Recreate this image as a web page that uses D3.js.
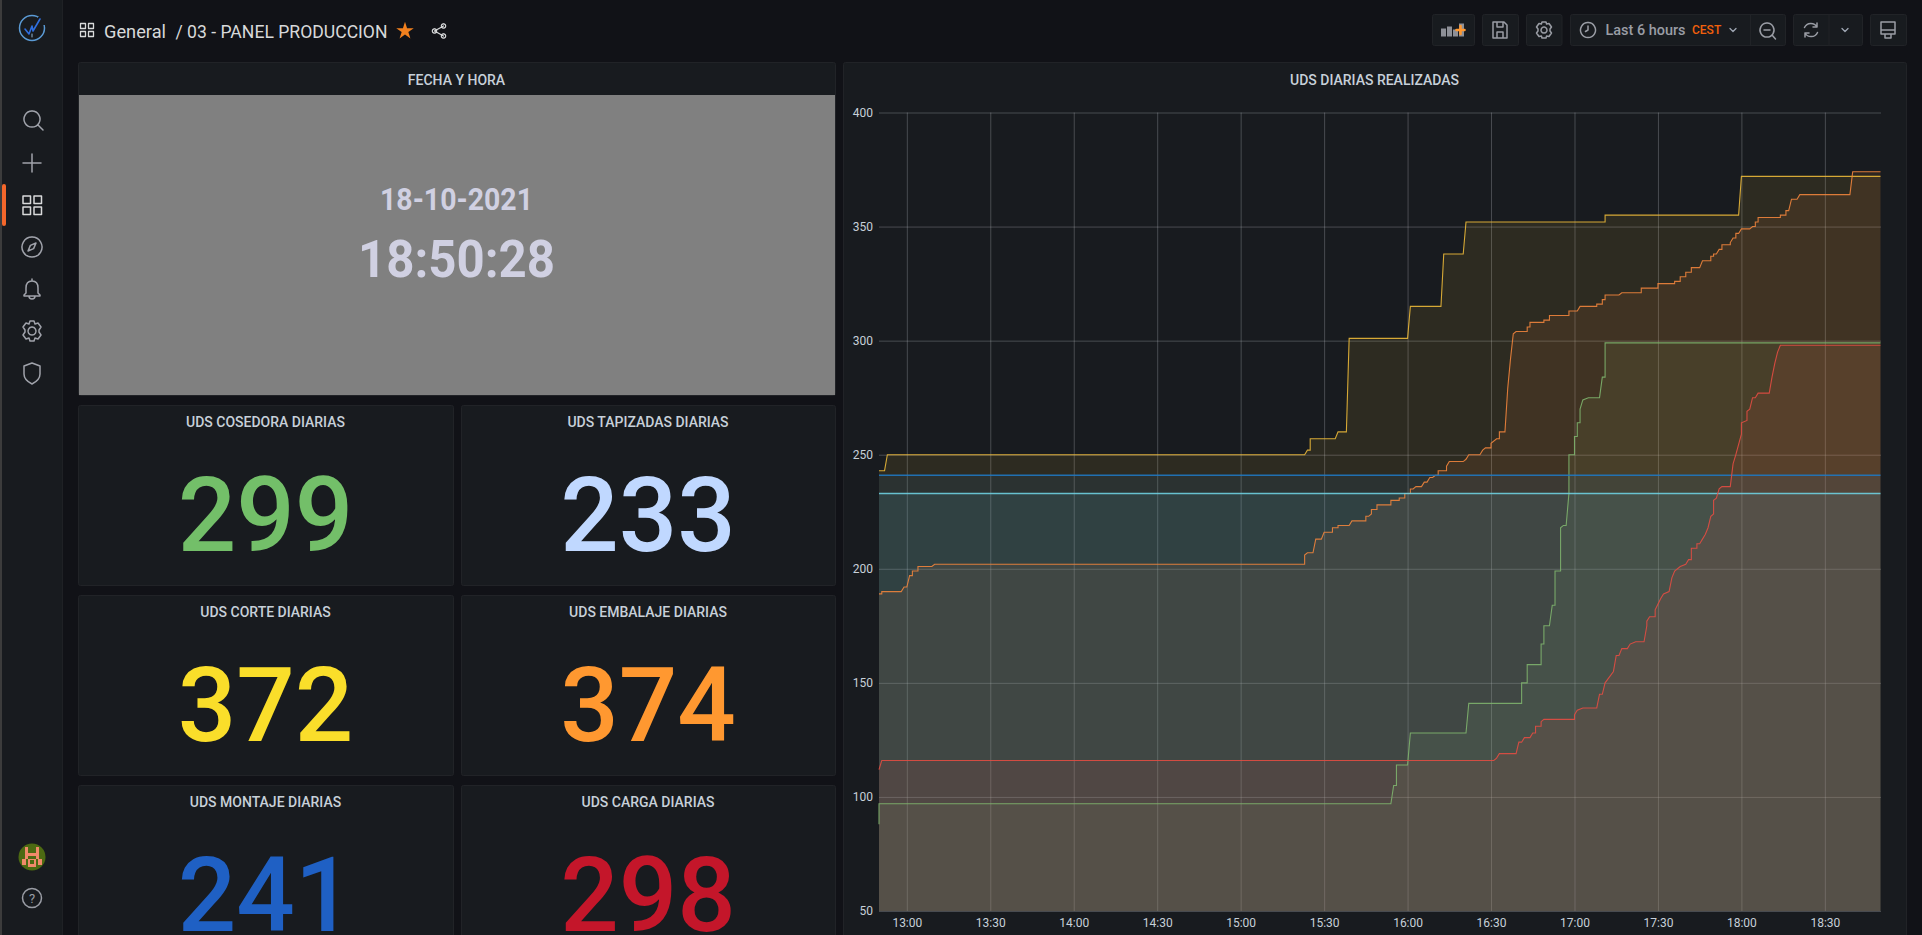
<!DOCTYPE html>
<html>
<head>
<meta charset="utf-8">
<script src="https://cdn.jsdelivr.net/npm/d3@7"></script>
<style>
    html, body { margin: 0; padding: 0; background: #111217; overflow: hidden; }
    svg { display: block; }
    text { font-family: Roboto, sans-serif; }
</style>
</head>
<body>
<svg id="dash" width="1922" height="935"></svg>
<script>
    'use strict';

    // stat panels
    const statTitles = ['UDS COSEDORA DIARIAS', 'UDS TAPIZADAS DIARIAS', 'UDS CORTE DIARIAS', 'UDS EMBALAJE DIARIAS', 'UDS MONTAJE DIARIAS', 'UDS CARGA DIARIAS'];
    const statValues = [299, 233, 372, 374, 241, 298];
    const statColors = ['#73bf69', '#c0d8ff', '#fade2a', '#ff9830', '#1f60c4', '#c4162a'];

    // axis ticks
    const yTicks = [50, 100, 150, 200, 250, 300, 350, 400];
    const xTicks = ['13:00', '13:30', '14:00', '14:30', '15:00', '15:30', '16:00', '16:30', '17:00', '17:30', '18:00', '18:30'];
    const timeRange = ['12:50.47', '18:50.47'];

    // series: [time, units]
    const montaje = [['12:50.47', 241], ['18:50.47', 241]];
    const tapizadas = [['12:50.47', 233], ['18:50.47', 233]];
    const corte = [
        ['12:50.47', 243], ['12:52.6', 243], ['12:53', 250], ['15:23.6', 250], ['15:24', 252], ['15:25', 252],
        ['15:25.4', 257], ['15:34.7', 257], ['15:35', 260], ['15:38.6', 260], ['15:39.4', 301], ['16:00.3', 301],
        ['16:01.2', 315], ['16:12.2', 315], ['16:13', 338], ['16:20.8', 338], ['16:21.5', 352], ['17:11.4', 352],
        ['17:11.7', 355], ['17:59.6', 355], ['18:00.3', 372], ['18:50.47', 372]
    ];
    const embalaje = [
        ['12:50.47', 189], ['12:51.4', 189], ['12:51.8', 190], ['12:58.6', 190], ['12:59', 192], ['13:00.5', 192],
        ['13:01.4', 197], ['13:02.2', 197], ['13:02.5', 199], ['13:04.4', 199], ['13:04.7', 201], ['13:09.8', 201],
        ['13:10.3', 202], ['15:23', 202], ['15:23.7', 206], ['15:24.5', 207], ['15:26.9', 207], ['15:27.6', 213],
        ['15:29.8', 213], ['15:30.7', 216], ['15:33.4', 216], ['15:33.9', 218], ['15:35', 218], ['15:35.3', 219],
        ['15:39.9', 219], ['15:40.2', 221], ['15:45', 221], ['15:45.3', 223], ['15:46.8', 223], ['15:47.1', 224],
        ['15:47.7', 224], ['15:47.9', 226], ['15:49.4', 226], ['15:49.6', 228], ['15:54.1', 228], ['15:54.3', 230],
        ['15:57.5', 230], ['15:57.9', 231], ['15:59.3', 231], ['15:59.6', 233], ['16:01', 233], ['16:01.4', 235],
        ['16:02.8', 235], ['16:03', 236], ['16:05.9', 236], ['16:06.5', 238], ['16:07.6', 238], ['16:08', 240],
        ['16:09.9', 240], ['16:10.1', 241], ['16:11', 241], ['16:11.2', 243], ['16:14', 243], ['16:14.6', 245],
        ['16:15.5', 247], ['16:20.9', 247], ['16:21.2', 248], ['16:22.3', 250], ['16:26.4', 250], ['16:27.2', 252],
        ['16:28', 253], ['16:30.3', 253], ['16:30.9', 255], ['16:32.1', 257], ['16:33', 257], ['16:33.3', 260],
        ['16:35.9', 260], ['16:36.6', 279], ['16:37.5', 292], ['16:38.3', 303], ['16:39.9', 304], ['16:43.1', 304],
        ['16:43.4', 306], ['16:44.2', 306], ['16:44.7', 308], ['16:49.5', 308], ['16:49.9', 309], ['16:51.5', 309],
        ['16:51.9', 311], ['16:58.1', 311], ['16:58.4', 313], ['17:01.8', 313], ['17:02.4', 315], ['17:08.3', 315],
        ['17:08.6', 316], ['17:10', 316], ['17:10.4', 318], ['17:11', 318], ['17:11.4', 320], ['17:16.6', 320],
        ['17:17', 321], ['17:24.1', 321], ['17:24.6', 323], ['17:30.2', 323], ['17:30.7', 325], ['17:36.4', 325],
        ['17:36.7', 326], ['17:38', 326], ['17:38.3', 328], ['17:40.6', 328], ['17:40.9', 330], ['17:42.3', 330],
        ['17:42.5', 332], ['17:45.9', 332], ['17:46.3', 335], ['17:49.2', 335], ['17:49.5', 337], ['17:50.5', 337],
        ['17:50.8', 338], ['17:51.9', 338], ['17:52.1', 340], ['17:53.5', 340], ['17:53.7', 342], ['17:56', 342],
        ['17:56.4', 343], ['17:56.8', 343], ['17:57', 345], ['17:58.3', 345], ['17:58.7', 347], ['17:59.9', 347],
        ['18:00.2', 349], ['18:03.6', 349], ['18:04', 350], ['18:05.2', 350], ['18:05.6', 352], ['18:06.5', 352],
        ['18:06.9', 354], ['18:14.4', 354], ['18:14.8', 355], ['18:16.3', 355], ['18:16.6', 357], ['18:17.8', 357],
        ['18:18.4', 362], ['18:20.8', 362], ['18:21', 364], ['18:39.3', 364], ['18:40', 374], ['18:50.47', 374]
    ];
    const cosedora = [
        ['12:50.47', 88], ['12:50.9', 97], ['15:54.7', 97], ['15:55.2', 105], ['15:56.2', 105], ['15:56.8', 114],
        ['16:00.7', 114], ['16:01.3', 128], ['16:21.7', 128], ['16:22.3', 141], ['16:41.3', 141], ['16:41.8', 150],
        ['16:43', 150], ['16:43.7', 158], ['16:48', 158], ['16:48.5', 167], ['16:49', 167], ['16:49.5', 175],
        ['16:51.5', 175], ['16:52', 184], ['16:53.1', 184], ['16:53.7', 199], ['16:55', 199], ['16:55.5', 218],
        ['16:56.3', 219], ['16:57.8', 219], ['16:58.1', 233], ['16:58.3', 246], ['16:58.8', 250], ['17:00', 250],
        ['17:00.6', 258], ['17:01.2', 258], ['17:01.4', 264], ['17:02.4', 264], ['17:02.8', 270], ['17:03.6', 274],
        ['17:05.4', 275], ['17:09.2', 275], ['17:10', 284], ['17:11.4', 284], ['17:11.7', 299], ['18:50.47', 299]
    ];
    const carga = [
        ['12:50.47', 112], ['12:51.8', 116], ['16:31.5', 116], ['16:32', 117], ['16:32.7', 117], ['16:33', 119],
        ['16:39.5', 119], ['16:40.5', 124], ['16:41.2', 124], ['16:42', 126], ['16:44.7', 126], ['16:45.3', 128],
        ['16:46.2', 128], ['16:46.8', 131], ['16:48', 131], ['16:48.6', 133], ['16:49.6', 134], ['17:00', 134],
        ['17:00.6', 136], ['17:01.5', 138], ['17:03.2', 139], ['17:08.2', 139], ['17:09.7', 145], ['17:10.4', 145],
        ['17:11.6', 150], ['17:14', 155], ['17:15.4', 162], ['17:16.7', 162], ['17:17', 165], ['17:19.8', 165],
        ['17:20.2', 167], ['17:22.4', 168], ['17:25', 168], ['17:26', 175], ['17:26.8', 177], ['17:27.8', 179],
        ['17:29.3', 179], ['17:29.8', 182], ['17:31.4', 187], ['17:32.8', 189], ['17:34.4', 190], ['17:35.6', 196],
        ['17:36.8', 199], ['17:38', 201], ['17:40.4', 202], ['17:41', 204], ['17:42.3', 204], ['17:42.8', 209],
        ['17:44.4', 209], ['17:44.8', 211], ['17:45.8', 211], ['17:46.3', 213], ['17:47.5', 215], ['17:48.5', 218],
        ['17:49.3', 223], ['17:50.2', 224], ['17:50.9', 230], ['17:51.9', 231], ['17:52.6', 235], ['17:53.3', 236],
        ['17:56.4', 236], ['17:57.7', 246], ['17:58.6', 250], ['18:00', 259], ['18:00.7', 264], ['18:02', 265],
        ['18:02.5', 269], ['18:03.4', 270], ['18:04.6', 275], ['18:05.9', 275], ['18:06.3', 277], ['18:10.4', 277],
        ['18:11.3', 284], ['18:12.7', 290], ['18:13.5', 295], ['18:14.5', 298], ['18:50.47', 298]
    ];

    // drawn in this order, carga ends up on top
    const seriesData = [cosedora, corte, embalaje, tapizadas, montaje, carga];
    const seriesColors = ['#7eb26d', '#eab839', '#ef843c', '#6ed0e0', '#1f78c1', '#e24d42'];
    const seriesWidths = [1.1, 1.1, 1.1, 1.3, 1.7, 1.1];

    const svg = d3.select('#dash');

    function toDate(s) {
        const parts = s.split(':');
        return new Date(2021, 9, 18, +parts[0], +parts[1], 0);
    }

    function panel(x, y, w, h) {
        svg.append('rect')
            .attr('x', x + 0.5).attr('y', y + 0.5).attr('width', w).attr('height', h).attr('rx', 2)
            .attr('fill', '#181b1f').attr('stroke', '#212327');
    }

    function panelTitle(label, x, y) {
        svg.append('text')
            .attr('x', x).attr('y', y)
            .attr('text-anchor', 'middle').attr('dominant-baseline', 'central')
            .attr('fill', '#c7d0d9').attr('font-size', 14).attr('font-weight', 500)
            .text(label);
    }

    function icon(d, x, y, opts) {
        const o = opts || {};
        svg.append('path')
            .attr('d', d)
            .attr('transform', `translate(${x},${y})`)
            .attr('fill', o.fill || 'none')
            .attr('stroke', o.fill ? 'none' : (o.color || '#9a9da5'))
            .attr('stroke-width', o.width || 1.5)
            .attr('stroke-linejoin', 'round')
            .attr('stroke-linecap', 'round');
    }

    // sidebar
    svg.append('rect').attr('width', 62).attr('height', 935).attr('fill', '#181b1f');
    svg.append('rect').attr('x', 62).attr('width', 1).attr('height', 935).attr('fill', '#1f2125');
    svg.append('rect').attr('width', 2).attr('height', 935).attr('fill', '#3c3c3c');
    svg.append('rect').attr('x', 2).attr('y', 184).attr('width', 4).attr('height', 42).attr('rx', 2).attr('fill', '#f4672b');

    // logo
    svg.append('circle').attr('cx', 32).attr('cy', 28).attr('r', 12.5)
        .attr('fill', 'none').attr('stroke', '#5b9bd5').attr('stroke-width', 1.5);
    svg.append('rect').attr('x', 38).attr('y', 17).attr('width', 8).attr('height', 8).attr('fill', '#181b1f');
    icon('M-7,1 L-3,6 L0,-2 L1,3 L8,-9', 32, 28, {color: '#2f6fe0', width: 1.6});
    icon('M0,6 V9', 32, 28, {color: '#8fb8d8', width: 1});

    icon('M0,-8 A8,8 0 1 0 0.01,-8 M6,6 L11,11', 32, 119, {color: '#a0a3ab'});
    icon('M-9,0 H9 M0,-9 V9', 32, 163, {color: '#a0a3ab'});
    icon('M-9,-9 h7.5 v7.5 h-7.5 Z M2,-9 h7.5 v7.5 h-7.5 Z M-9,2 h7.5 v7.5 h-7.5 Z M2,2 h7.5 v7.5 h-7.5 Z', 32, 205, {color: '#d8d9da'});
    icon('M0,-10 A10,10 0 1 0 0.01,-10 M4,-4 L1.6,1.6 L-4,4 L-1.6,-1.6 Z', 32, 247, {color: '#a0a3ab'});
    icon('M0,-10 V-8 C-5,-8 -6,-4 -6,-1 V4 L-8,6 V7 H8 V6 L6,4 V-1 C6,-4 5,-8 0,-8 M-3,7 C-3,11 3,11 3,7', 32, 289, {color: '#a0a3ab'});
    icon('M0,-4 A4,4 0 1 0 0.01,-4 M-2,-10 H2 L3,-7 L6,-8 L9,-4 L7,-1 V1 L9,4 L6,8 L3,7 L2,10 H-2 L-3,7 L-6,8 L-9,4 L-7,1 V-1 L-9,-4 L-6,-8 L-3,-7 Z', 32, 331, {color: '#a0a3ab'});
    icon('M0,-10 L8,-7 V1 C8,6 4,9 0,11 C-4,9 -8,6 -8,1 V-7 Z', 32, 373, {color: '#a0a3ab'});

    // avatar
    svg.append('circle').attr('cx', 32).attr('cy', 857).attr('r', 13.5).attr('fill', '#4c6a12');
    [[-7, -10, 3, 12], [4, -10, 3, 12], [-4, -4, 8, 3], [-4, 2, 8, 8], [-10, 2, 4, 6], [6, 2, 4, 6]].forEach(r => {
        svg.append('rect').attr('x', 32 + r[0]).attr('y', 857 + r[1]).attr('width', r[2]).attr('height', r[3]).attr('fill', '#f08a6a');
    });
    svg.append('rect').attr('x', 30).attr('y', 860).attr('width', 4).attr('height', 4).attr('fill', '#4c6a12');

    // help
    svg.append('circle').attr('cx', 32).attr('cy', 898).attr('r', 9.5).attr('fill', 'none').attr('stroke', '#9a9da5').attr('stroke-width', 1.5);
    svg.append('text').attr('x', 32).attr('y', 902.5).attr('text-anchor', 'middle').attr('fill', '#9a9da5').attr('font-size', 13).text('?');

    // header
    icon('M-6.5,-6.5 h5 v5 h-5 Z M1.5,-6.5 h5 v5 h-5 Z M-6.5,1.5 h5 v5 h-5 Z M1.5,1.5 h5 v5 h-5 Z', 87, 30, {color: '#d8d9da', width: 1.3});
    svg.append('text').attr('x', 104).attr('y', 31).attr('dominant-baseline', 'central')
        .attr('fill', '#d8d9da').attr('font-size', 18)
        .attr('textLength', 62).attr('lengthAdjust', 'spacingAndGlyphs').text('General');
    svg.append('text').attr('x', 175.5).attr('y', 31).attr('dominant-baseline', 'central')
        .attr('fill', '#d8d9da').attr('font-size', 18)
        .attr('textLength', 212).attr('lengthAdjust', 'spacingAndGlyphs').text('/ 03 - PANEL PRODUCCION');
    svg.append('path').attr('transform', 'translate(405,31)')
        .attr('d', d3.symbol().type(d3.symbolStar).size(95)).attr('fill', '#f2801e');
    icon('M-4.5,0 L4.5,-5 M-4.5,0 L4.5,5 M-4.5,-2.2 A2.2,2.2 0 1 0 -4.49,-2.2 M4.5,-7.2 A2.2,2.2 0 1 0 4.51,-7.2 M4.5,2.8 A2.2,2.2 0 1 0 4.51,2.8', 439, 31, {color: '#d8d9da', width: 1.2});

    // toolbar buttons
    [[1432, 42], [1482, 36], [1526, 35.5], [1570, 215], [1793, 69], [1870, 36]].forEach(b => {
        svg.append('rect').attr('x', b[0] + 0.5).attr('y', 14.5).attr('width', b[1]).attr('height', 31).attr('rx', 2)
            .attr('fill', '#181b1f').attr('stroke', '#212327');
    });
    [1750, 1828.5].forEach(x => {
        svg.append('rect').attr('x', x).attr('y', 15).attr('width', 1).attr('height', 31).attr('fill', '#212327');
    });
    [[1441, 5, 8], [1447, 3, 10], [1453, 6, 7], [1459, 0, 13]].forEach(b => {
        svg.append('rect').attr('x', b[0]).attr('y', 23.5 + b[1]).attr('width', 5).attr('height', b[2]).attr('fill', '#8e9097');
    });
    icon('M-4,0 H4 M0,-4 V4', 1460.5, 30, {color: '#ff9830', width: 2.6});
    icon('M-7,-8 H4 L7,-5 V8 H-7 Z M-3,-8 V-3 H3 V-8 M-3,8 V2 H3 V8', 1500, 30, {color: '#9a9da5'});
    icon('M0,-3 A3,3 0 1 0 0.01,-3 M-2,-8 H2 L2.6,-6 L5,-6.5 L7.5,-3 L6,-1 V1 L7.5,3 L5,6.5 L2.6,6 L2,8 H-2 L-2.6,6 L-5,6.5 L-7.5,3 L-6,1 V-1 L-7.5,-3 L-5,-6.5 L-2.6,-6 Z', 1544, 30, {color: '#9a9da5'});
    icon('M0,-7.5 A7.5,7.5 0 1 0 0.01,-7.5 M0,-4 V0 L-2.5,1.5', 1588, 30, {color: '#9a9da5'});
    svg.append('text').attr('x', 1605.5).attr('y', 30).attr('dominant-baseline', 'central')
        .attr('fill', '#9a9da5').attr('font-size', 14).attr('font-weight', 500)
        .attr('textLength', 80).attr('lengthAdjust', 'spacingAndGlyphs').text('Last 6 hours');
    svg.append('text').attr('x', 1692).attr('y', 30).attr('dominant-baseline', 'central')
        .attr('fill', '#f2600c').attr('font-size', 12).attr('font-weight', 500).text('CEST');
    icon('M-3,-1.5 L0,1.5 L3,-1.5', 1733, 30, {color: '#9fa7b3', width: 1.3});
    icon('M0,-7 A7,7 0 1 0 0.01,-7 M5,5 L8.5,9 M-3,0 H3', 1767, 30, {color: '#9a9da5'});
    icon('M-6.5,-2.5 A7,7 0 0 1 6,-3 M6,-7 V-3 H2 M6.5,2.5 A7,7 0 0 1 -6,3 M-6,7 V3 H-2', 1811, 30, {color: '#9a9da5'});
    icon('M-3,-1.5 L0,1.5 L3,-1.5', 1845, 30, {color: '#9fa7b3', width: 1.3});
    icon('M-7,-8 H7 V4 H-7 Z M-7,0 H7 M-3,4 V8 H3 V4', 1888, 30, {color: '#9a9da5'});

    // fecha y hora
    panel(78, 62, 757, 333);
    panelTitle('FECHA Y HORA', 456.5, 80);
    svg.append('rect').attr('x', 79).attr('y', 95).attr('width', 756).attr('height', 300).attr('fill', '#808080');
    svg.append('text').attr('x', 456.5).attr('y', 199).attr('text-anchor', 'middle').attr('dominant-baseline', 'central')
        .attr('fill', '#d0d0e2').attr('font-size', 32).attr('font-weight', 700)
        .attr('textLength', 153).attr('lengthAdjust', 'spacingAndGlyphs').text('18-10-2021');
    svg.append('text').attr('x', 456.5).attr('y', 259).attr('text-anchor', 'middle').attr('dominant-baseline', 'central')
        .attr('fill', '#d0d0e2').attr('font-size', 52).attr('font-weight', 700)
        .attr('textLength', 197).attr('lengthAdjust', 'spacingAndGlyphs').text('18:50:28');

    // stat panels, two columns
    const statX = [78, 461];
    const statY = [405, 595, 785];
    const statBase = [551, 741, 931];
    statTitles.forEach((t, i) => {
        const col = i % 2, row = Math.floor(i / 2);
        const w = col === 0 ? 375 : 374;
        panel(statX[col], statY[row], w, 180);
        const cx = statX[col] + w / 2;
        panelTitle(t, cx, statY[row] + 17);
        svg.append('text').attr('x', cx).attr('y', statBase[row]).attr('text-anchor', 'middle')
            .attr('fill', statColors[i]).attr('font-size', 103).attr('font-weight', 500)
            .text(statValues[i]);
    });

    // graph
    panel(843, 62, 1063, 890);
    panelTitle('UDS DIARIAS REALIZADAS', 1374.5, 80);

    const x = d3.scaleTime().domain(timeRange.map(toDate)).range([879, 1880.5]);
    const y = d3.scaleLinear().domain([50, 400]).range([911, 112.5]);

    const xAxis = d3.axisBottom(x)
        .tickValues(xTicks.map(toDate))
        .tickFormat(d3.timeFormat('%H:%M'))
        .tickSize(y(400) - y(50))
        .tickPadding(0);
    const yAxis = d3.axisLeft(y)
        .tickValues(yTicks)
        .tickSize(-(1881 - 879))
        .tickPadding(6);

    const gridColor = 'rgba(204,208,214,0.27)';
    const xGroup = svg.append('g').attr('transform', 'translate(0,911)').call(xAxis);
    xGroup.select('.domain').remove();
    xGroup.selectAll('line').attr('stroke', gridColor);
    xGroup.selectAll('text').attr('y', 7).attr('dy', '0.71em')
        .attr('fill', '#c7d0d9').attr('font-size', 12).attr('font-family', 'Roboto, sans-serif');

    const yGroup = svg.append('g').attr('transform', 'translate(879,0)').call(yAxis);
    yGroup.select('.domain').remove();
    yGroup.selectAll('line').attr('stroke', gridColor);
    yGroup.selectAll('text').attr('fill', '#c7d0d9').attr('font-size', 12).attr('font-family', 'Roboto, sans-serif');

    const area = d3.area()
        .x(d => x(toDate(d[0])))
        .y0(y(50))
        .y1(d => y(d[1]));
    const line = d3.line()
        .x(d => x(toDate(d[0])))
        .y(d => y(d[1]));

    const chart = svg.append('g').attr('class', 'chart-group');
    seriesData.forEach((s, i) => {
        chart.append('path').attr('d', area(s)).attr('fill', seriesColors[i]).attr('fill-opacity', 0.1);
    });
    seriesData.forEach((s, i) => {
        chart.append('path').attr('d', line(s)).attr('fill', 'none')
            .attr('stroke', seriesColors[i]).attr('stroke-width', seriesWidths[i]).attr('stroke-opacity', 0.9);
    });
</script>
</body>
</html>
